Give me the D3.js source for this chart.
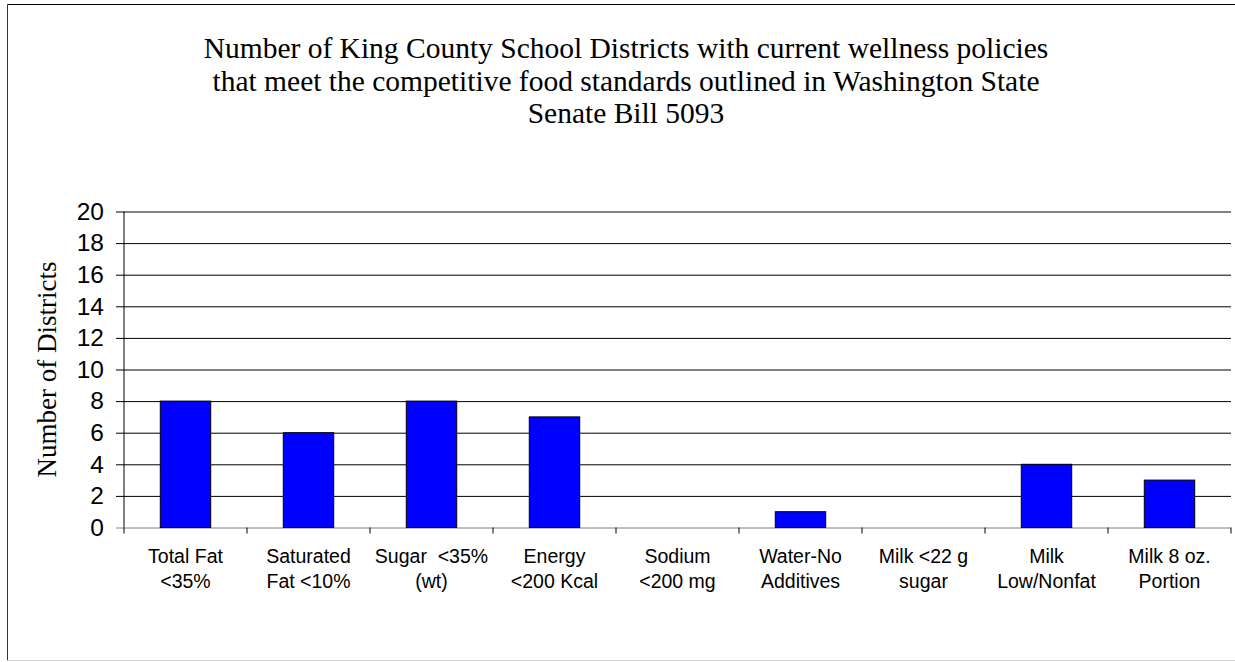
<!DOCTYPE html>
<html>
<head>
<meta charset="utf-8">
<script src="https://d3js.org/d3.v7.min.js"></script>
<style>
  body { margin: 0; background: #fff; }
  .tick text { font-family: "Liberation Sans", Arial, sans-serif; }
</style>
</head>
<body>
<script>
// data
var categories = [
  ["Total Fat", "<35%"],
  ["Saturated", "Fat <10%"],
  ["Sugar  <35%", "(wt)"],
  ["Energy", "<200 Kcal"],
  ["Sodium", "<200 mg"],
  ["Water-No", "Additives"],
  ["Milk <22 g", "sugar"],
  ["Milk", "Low/Nonfat"],
  ["Milk 8 oz.", "Portion"]
]
var districts = [8, 6, 8, 7, 0, 1, 0, 4, 3]
var yTicks = [0, 2, 4, 6, 8, 10, 12, 14, 16, 18, 20]
var titleLines = [
  "Number of King County School Districts with current wellness policies",
  "that meet the competitive food standards outlined in Washington State",
  "Senate Bill 5093"
]

function drawChart() {
  var W = 1235, H = 662
  var svg = d3.select("body").append("svg")
    .attr("width", W)
    .attr("height", H)

  // outer chart frame: dark top/left, faint bottom, no right edge visible
  svg.append("line").attr("x1", 7.5).attr("x2", W).attr("y1", 4.5).attr("y2", 4.5).attr("stroke", "#000")
  svg.append("line").attr("x1", 7.5).attr("x2", 7.5).attr("y1", 4.5).attr("y2", 660.5).attr("stroke", "#333")
  svg.append("line").attr("x1", 7.5).attr("x2", W).attr("y1", 660.5).attr("y2", 660.5).attr("stroke", "#d4d4d4")

  var left = 124, right = 1231, top = 211.5, bottom = 527.5

  var x = d3.scaleBand()
    .domain(d3.range(categories.length))
    .range([left, right])
    .padding(0)
  var y = d3.scaleLinear()
    .domain([0, 20])
    .range([bottom, top])

  // title
  svg.append("g").selectAll("text")
    .data(titleLines)
    .enter().append("text")
    .attr("x", 626)
    .attr("y", (d, i) => 58 + i * 32.5)
    .attr("text-anchor", "middle")
    .style("font-family", "'Liberation Serif', 'Times New Roman', serif")
    .style("font-size", "29.5px")
    .text(d => d)

  // gridlines + y axis
  var yAxis = svg.append("g")
    .attr("transform", "translate(" + left + ",0)")
    .call(d3.axisLeft(y).tickValues(yTicks).tickSize(8).tickPadding(12))
  yAxis.select(".domain").remove()
  yAxis.selectAll(".tick line")
    .attr("x2", right - left)
    .attr("x1", -8)
    .attr("stroke", "#000")
  yAxis.selectAll(".tick text")
    .style("font-size", "24.5px")
    .attr("fill", "#000")
  yAxis.select(".tick:first-of-type line").attr("stroke", "#808080")
  svg.append("line")
    .attr("x1", left).attr("x2", left)
    .attr("y1", top).attr("y2", bottom)
    .attr("stroke", "#000")

  // bars (zero values draw nothing)
  var barW = x.bandwidth() * 0.41
  svg.append("g").selectAll("rect")
    .data(districts)
    .enter().append("rect")
    .attr("x", (d, i) => x(i) + (x.bandwidth() - barW) / 2)
    .attr("y", d => y(d))
    .attr("width", barW)
    .attr("height", d => bottom - y(d))
    .attr("fill", "#0000ff")
    .attr("stroke", d => d > 0 ? "#000" : "none")
    .attr("stroke-width", 1)

  // category ticks below baseline
  svg.append("g").selectAll("line")
    .data(d3.range(categories.length + 1))
    .enter().append("line")
    .attr("x1", i => left + i * x.step())
    .attr("x2", i => left + i * x.step())
    .attr("y1", bottom)
    .attr("y2", bottom + 6)
    .attr("stroke", "#000")

  // category labels, two lines each
  var lab = svg.append("g").selectAll("text")
    .data(categories)
    .enter().append("text")
    .attr("text-anchor", "middle")
    .style("font-family", "'Liberation Sans', Arial, sans-serif")
    .style("font-size", "19.5px")
    .style("white-space", "pre")
    .attr("transform", (d, i) => "translate(" + (x(i) + x.bandwidth() / 2) + ",563)")
  lab.append("tspan").attr("x", 0).attr("y", 0).text(d => d[0])
  lab.append("tspan").attr("x", 0).attr("y", 25).text(d => d[1])

  // y title
  svg.append("text")
    .attr("transform", "translate(56," + ((top + bottom) / 2) + ") rotate(-90)")
    .attr("text-anchor", "middle")
    .style("font-family", "'Liberation Serif', 'Times New Roman', serif")
    .style("font-size", "27px")
    .text("Number of Districts")
}
drawChart()
</script>
</body>
</html>
